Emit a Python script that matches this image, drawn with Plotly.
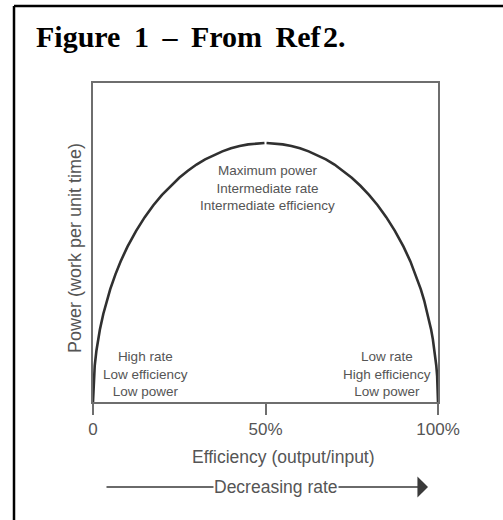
import plotly.graph_objects as go

# Efficiency (%) and power (relative, peak = 1)
eff_left = [0, 0.25, 0.5, 1, 1.5, 2, 3, 4, 5, 6.5, 8, 10, 12.5, 15, 17.5, 20, 22.5, 25, 27.5,
            30, 32.5, 35, 37.5, 40, 42.5, 45, 47.5, 49.7]
pow_left = [0, 0.10, 0.141, 0.199, 0.243, 0.28, 0.341, 0.392, 0.436, 0.493, 0.543, 0.60, 0.661,
            0.714, 0.76, 0.80, 0.835, 0.866, 0.893, 0.917, 0.937, 0.954, 0.968, 0.98, 0.989,
            0.995, 0.999, 1.0]
eff_right = [50.3, 52.5, 55, 57.5, 60, 62.5, 65, 67.5, 70, 72.5, 75, 77.5, 80, 82.5, 85, 87.5,
             90, 92, 93.5, 95, 96, 97, 98, 98.5, 99, 99.5, 99.75, 100]
pow_right = [1.0, 0.999, 0.995, 0.989, 0.98, 0.968, 0.954, 0.937, 0.917, 0.893, 0.866, 0.835,
             0.80, 0.76, 0.714, 0.661, 0.60, 0.543, 0.493, 0.436, 0.392, 0.341, 0.28, 0.243,
             0.199, 0.141, 0.10, 0]

tick_vals = [0, 50, 100]
tick_text = ["0", "50%", "100%"]

title_text = "Figure\u2009 1\u2009 –\u2009 From\u2009 Ref\u200a2."
y_title = "Power (work per unit time)"
x_title = "Efficiency (output/input)"
arrow_text = "Decreasing rate"
left_note = "High rate<br>Low efficiency<br>Low power"
mid_note = "Maximum power<br>Intermediate rate<br>Intermediate efficiency"
right_note = "Low rate<br>High efficiency<br>Low power"

W, H = 503, 520
L, R, T, B = 93, 438, 83, 402


def px(x):
    return (x - L) / (R - L)


def py(y):
    return (B - y) / (B - T)


CURVE = "#303030"
AX = "#6e6e6e"
TXT = "#555555"
SANS = "Liberation Sans, Arial, sans-serif"

fig = go.Figure()
for xs, ys in [(eff_left, pow_left), (eff_right, pow_right)]:
    fig.add_trace(go.Scatter(x=xs, y=ys, mode="lines", line=dict(color=CURVE, width=2.6),
                             hoverinfo="skip", showlegend=False))

fig.update_layout(
    width=W, height=H,
    margin=dict(l=L, r=W - R, t=T, b=H - B),
    paper_bgcolor="white", plot_bgcolor="white",
    showlegend=False,
    xaxis=dict(range=[0, 100], showgrid=False, zeroline=False, showline=True, mirror=True,
               linecolor=AX, linewidth=2, ticks="outside", ticklen=11, tickwidth=2, tickcolor=AX,
               tickvals=tick_vals, ticktext=tick_text,
               tickfont=dict(family=SANS, size=17, color=TXT)),
    yaxis=dict(range=[0, 1.232], showgrid=False, zeroline=False, showline=True, mirror=True,
               linecolor=AX, linewidth=2, showticklabels=False, ticks=""),
)

ann = []
ann.append(dict(text="<b>" + title_text + "</b>", x=px(34), y=py(36), xref="paper", yref="paper",
                xanchor="left", yanchor="middle", showarrow=False,
                font=dict(family="Liberation Serif, Times New Roman, serif", size=30, color="black")))
ann.append(dict(text=y_title, x=px(75), y=py(248), xref="paper", yref="paper", textangle=-90,
                xanchor="center", yanchor="middle", showarrow=False,
                font=dict(family=SANS, size=18, color=TXT)))
ann.append(dict(text=x_title, x=px(283), y=py(457), xref="paper", yref="paper",
                xanchor="center", yanchor="middle", showarrow=False,
                font=dict(family=SANS, size=17.5, color=TXT)))
# arrow line
ann.append(dict(text="", x=px(428), y=py(487), xref="paper", yref="paper",
                ax=-(428 - 105), ay=0, axref="pixel", ayref="pixel", showarrow=True,
                arrowhead=1, arrowsize=2.2, arrowwidth=1.6, arrowcolor="#3a3a3a"))
ann.append(dict(text=arrow_text, x=px(276), y=py(487), xref="paper", yref="paper",
                xanchor="center", yanchor="middle", showarrow=False, bgcolor="white", borderpad=0,
                font=dict(family=SANS, size=17.5, color=TXT)))
for note, cx, cy in [(left_note, 145, 374), (mid_note, 267, 188), (right_note, 387, 374)]:
    ann.append(dict(text=note, x=px(cx), y=py(cy), xref="paper", yref="paper",
                    xanchor="center", yanchor="middle", showarrow=False, align="center",
                    font=dict(family=SANS, size=13.5, color=TXT)))
fig.update_layout(annotations=ann)

# outer frame: left and top edges only are visible
fig.add_shape(type="line", xref="paper", yref="paper", x0=px(14), x1=px(14), y0=py(520), y1=py(6),
              line=dict(color="black", width=2.5), layer="above")
fig.add_shape(type="line", xref="paper", yref="paper", x0=px(14), x1=px(503), y0=py(6), y1=py(6),
              line=dict(color="black", width=2.5), layer="above")

fig.write_html(
    "out.html",
    config={"displayModeBar": False},
    post_script=("document.documentElement.style.margin='0';document.documentElement.style.overflow='hidden';"
                 "document.body.style.margin='0';document.body.style.overflow='hidden';"),
)
